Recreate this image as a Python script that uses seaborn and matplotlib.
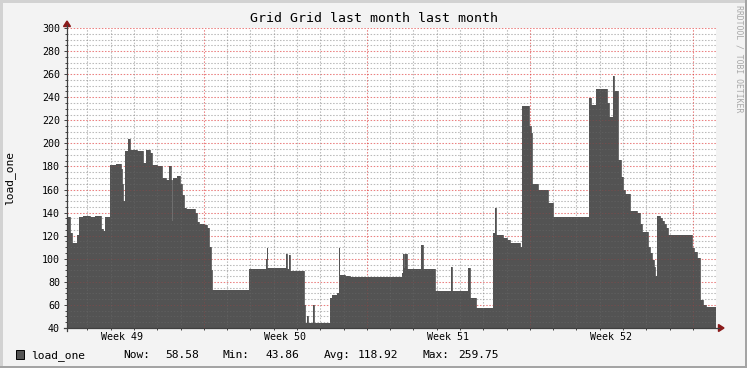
import matplotlib
matplotlib.use("Agg")
import matplotlib.pyplot as plt
import seaborn as sns
import pandas as pd
from matplotlib.lines import Line2D
from matplotlib.patches import Polygon, Rectangle

# ---------------- data ----------------
hours = [0, 3.1, 5.2, 10.3, 12.4, 16.5, 23.7, 28.9, 35.0, 37.1, 39.2, 44.3, 50.5,
         55.6, 56.7, 58.2, 59.8, 62.9, 64.9, 72.1, 78.8, 81.4, 85.5, 87.6, 92.7,
         97.9, 102.0, 105.1, 106.7, 108.2, 109.7, 113.4, 116.4, 118.5, 120.6,
         122.6, 131.9, 134.0, 136.0, 141.2, 144.3, 146.3, 147.9, 149.4, 168.0,
         187.6, 204.6, 205.6, 206.6, 225.2, 227.2, 228.3, 229.8, 244.2, 245.3,
         247.3, 248.4, 253.0, 254.5, 271.0, 273.1, 278.2, 279.8, 280.8, 286.5,
         291.6, 344.9, 346.2, 347.3, 348.8, 349.9, 365.3, 366.9, 379.7, 395.2,
         396.7, 413.7, 415.3, 421.5, 439.0, 441.1, 442.1, 449.3, 453.4, 456.5,
         466.8, 468.9, 476.1, 478.2, 479.2, 485.4, 495.7, 501.3, 537.9, 540.0,
         545.6, 556.5, 558.5, 562.3, 563.7, 568.3, 570.6, 572.6, 575.0, 580.2,
         586.9, 587.9, 590.5, 592.9, 599.0, 600.8, 602.5, 604.4, 606.0, 608.3,
         611.1, 613.1, 615.2, 617.3, 619.6, 643.7, 646.6, 648.9, 652.3, 655.4,
         658.5]
load_one = [136, 122, 114, 121, 136, 137, 136, 137, 126, 124, 136, 181, 182,
            178, 165, 150, 193, 204, 194, 193, 183, 194, 192, 181, 180,
            170, 168, 180, 168, 133, 170, 172, 165, 155, 144,
            143, 140, 132, 130, 129, 127, 110, 90, 73, 72.5,
            91.5, 100, 109, 92, 104, 91, 103, 89.5, 60, 44,
            50, 44, 60, 44, 66, 68.5, 70, 109, 86, 85,
            84, 88, 104, 92, 104, 91, 112, 91, 72, 93,
            72, 92, 66, 57, 122, 144, 121, 118, 116, 113.5,
            110, 232, 215, 209, 165, 160, 148, 136.5, 239, 233,
            247, 235, 223, 258, 245, 186, 171, 160, 156, 141,
            131, 140, 130, 123.5, 110, 105, 99, 93, 85, 137,
            135, 133, 130, 127, 120.5, 109, 106, 100.5, 64, 60,
            58.5]
x_end = 668.8

week_labels = ["Week 49", "Week 50", "Week 51", "Week 52"]
week_mid_hours = [57, 225, 393, 561]
week_start_hours = [141, 309, 477, 645]
day_hours = list(range(21, 669, 24))
y_ticks = list(range(40, 301, 20))
y_minor = list(range(40, 301, 5))

title = "Grid Grid last month last month"
y_label = "load_one"
series_name = "load_one"
stat_names = ["Now:", "Min:", "Avg:", "Max:"]
stat_values = ["58.58", "43.86", "118.92", "259.75"]

# ---------------- style ----------------
plt.rcParams["font.family"] = ["DejaVu Sans Mono"]
AREA = "#535353"
AXIS = "#404040"
ARROW = "#8b1a1a"
GRID_LS = (0, (1.4, 1.6))

W, H = 747, 368
def fx(px):
    return px / W
def fy(py):
    return 1 - py / H

fig = plt.figure(figsize=(W / 100, H / 100), dpi=100, facecolor="#f3f3f3")
ax = fig.add_axes([fx(67), fy(328), (716 - 67) / W, 300 / H])
ax.set_facecolor("white")

df = pd.DataFrame({"hour": hours + [x_end], "load": load_one + [load_one[-1]]})
ax.fill_between(df["hour"], 0, df["load"], step="post", color=AREA, lw=0, zorder=2)
sns.lineplot(data=df, x="hour", y="load", estimator=None, drawstyle="steps-post",
             color=AREA, lw=0.6, ax=ax, zorder=2, legend=False)

ax.set_xlim(0, x_end)
ax.set_ylim(40, 300)


def grid(alpha_scale, z):
    for yv in y_minor:
        if yv % 20 == 0:
            ax.axhline(yv, color="#e03a3a", alpha=0.55 * alpha_scale, lw=0.75,
                       ls=GRID_LS, zorder=z)
        else:
            ax.axhline(yv, color="#8c8c8c", alpha=0.5 * alpha_scale, lw=0.75,
                       ls=GRID_LS, zorder=z)
    for xv in day_hours:
        if any(abs(xv - w) < 1 for w in week_start_hours):
            continue
        ax.axvline(xv, color="#8c8c8c", alpha=0.5 * alpha_scale, lw=0.75,
                   ls=GRID_LS, zorder=z)
    for xv in week_start_hours:
        ax.axvline(xv, color="#e03a3a", alpha=0.55 * alpha_scale, lw=0.75,
                   ls=GRID_LS, zorder=z)


grid(1.0, 1)     # full grid behind the area
grid(0.35, 3)    # faint grid showing through the area

for s in ax.spines.values():
    s.set_visible(False)

ax.set_yticks(y_ticks)
ax.set_yticklabels([str(v) for v in y_ticks])
ax.set_yticks(y_minor, minor=True)
ax.set_xticks(week_mid_hours)
ax.set_xticklabels(week_labels)
ax.set_xticks(day_hours, minor=True)
ax.tick_params(axis="y", which="major", length=2.5, width=0.7, color=AXIS,
               pad=2.6, labelsize=7.2, labelcolor="black")
ax.tick_params(axis="y", which="minor", length=1.4, width=0.7, color=AXIS)
ax.tick_params(axis="x", which="major", length=0, pad=3.2, labelsize=7.2,
               labelcolor="black")
ax.tick_params(axis="x", which="minor", length=1.6, width=0.7, color=AXIS)
ax.set_xlabel("")
ax.set_ylabel("")

# axis lines and arrows
fig.add_artist(Line2D([fx(64), fx(719)], [fy(328), fy(328)], color=AXIS, lw=0.9,
                      transform=fig.transFigure))
fig.add_artist(Line2D([fx(67), fx(67)], [fy(331), fy(25)], color=AXIS, lw=0.9,
                      transform=fig.transFigure))
fig.add_artist(Polygon([[fx(63.5), fy(26.5)], [fx(70.5), fy(26.5)], [fx(67), fy(21)]],
                       closed=True, color=ARROW, transform=fig.transFigure))
fig.add_artist(Polygon([[fx(718.5), fy(324.5)], [fx(718.5), fy(331.5)], [fx(724), fy(328)]],
                       closed=True, color=ARROW, transform=fig.transFigure))

# texts
fig.text(0.5, fy(19), title, ha="center", va="center", fontsize=9.5, color="black")
fig.text(fx(10), fy(178), y_label, rotation=90, ha="center", va="center",
         fontsize=8.1, color="black")
fig.text(fx(738.5), fy(5), "RRDTOOL / TOBI OETIKER", rotation=270, ha="center",
         va="top", fontsize=5.9, color="#a8a8a8")

# legend
fig.add_artist(Rectangle((fx(15.5), fy(358.5)), 8.5 / W, 9 / H, facecolor=AREA,
                         edgecolor="black", lw=0.7, transform=fig.transFigure))
fig.text(fx(31), fy(358), series_name, ha="left", va="baseline", fontsize=8.1)
name_x = [123.3, 222.7, 323.3, 422.7]
val_x = [165, 265, 357.7, 458.3]
for n, v, nx, vx in zip(stat_names, stat_values, name_x, val_x):
    fig.text(fx(nx), fy(358), n, ha="left", va="baseline", fontsize=8.1)
    fig.text(fx(vx), fy(358), v, ha="left", va="baseline", fontsize=8.1)

# frame
fig.add_artist(Rectangle((0, fy(2.5)), 1, 2.5 / H, facecolor="#d2d2d2", lw=0,
                         transform=fig.transFigure))
fig.add_artist(Rectangle((0, 0), 2.5 / W, 1, facecolor="#d2d2d2", lw=0,
                         transform=fig.transFigure))
fig.add_artist(Rectangle((0, 0), 1, 2.5 / H, facecolor="#a4a4a4", lw=0,
                         transform=fig.transFigure))
fig.add_artist(Rectangle((fx(744.5), 0), 2.5 / W, 1, facecolor="#a4a4a4", lw=0,
                         transform=fig.transFigure))

fig.savefig("out.png", dpi=100, facecolor=fig.get_facecolor())
